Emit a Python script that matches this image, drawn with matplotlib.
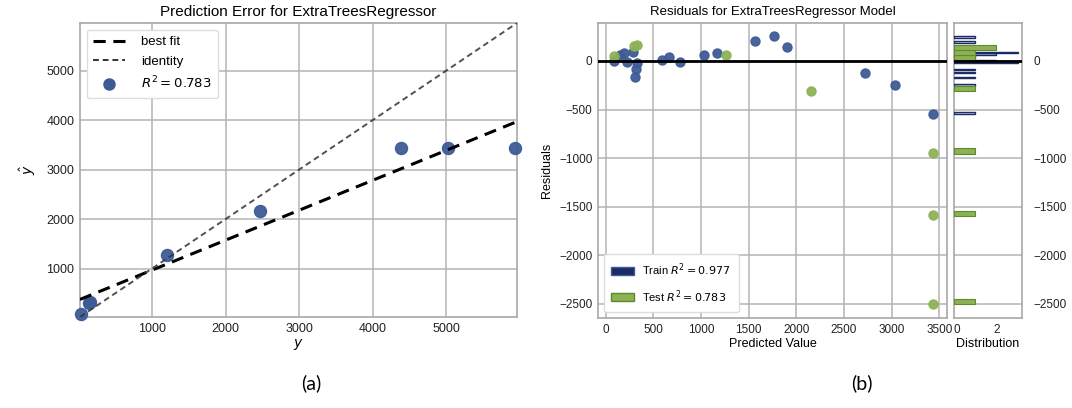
import matplotlib
matplotlib.use("Agg")
import matplotlib.pyplot as plt
from matplotlib.patches import Patch
from matplotlib.lines import Line2D
import numpy as np

# residual plot data (predicted value, residual = predicted - actual)
TRAIN_PRED = [86, 155, 196, 227, 286, 330, 320, 310, 588, 668, 778,
              1036, 1167, 1566, 1765, 1903, 2725, 3035, 3437]
TRAIN_RESID = [0, 65, 86, -7, 92, -17, -86, -164, 14, 38, -7,
               65, 86, 202, 253, 144, -123, -243, -542]
TEST_PRED = [86, 303, 330, 1266, 2154, 3437, 3437, 3437]
TEST_RESID = [48, 154, 168, 62, -312, -943, -1581, -2500]

TRAIN_R2 = 0.977
TEST_R2 = 0.783
BEST_FIT = (0.605, 363)   # slope, intercept

C_BLUE = "#3f5b96"
C_NAVY = "#1c2b63"
C_GREEN = "#8db255"
C_GREEN_E = "#5f8a2e"
C_GRID = "#b4b4b4"

plt.rcParams["font.family"] = ["Liberation Sans", "DejaVu Sans"]
plt.rcParams["axes.edgecolor"] = "#a8a8a8"
plt.rcParams["axes.linewidth"] = 1.2
plt.rcParams["xtick.color"] = "#222222"
plt.rcParams["ytick.color"] = "#222222"


def style(ax):
    ax.grid(True, color=C_GRID, lw=1.1)
    ax.set_axisbelow(True)
    ax.tick_params(length=0, labelsize=8.5, pad=4)


def hbars(ax, values, face, edge, lw):
    counts, edges = np.histogram(values, bins=50)
    keep = counts > 0
    ax.barh(edges[:-1][keep], counts[keep], height=np.diff(edges)[keep],
            align="edge", color=face, edgecolor=edge, lw=lw, zorder=3)


fig = plt.figure(figsize=(10.72, 4.08), dpi=100)
axA = fig.add_axes([0.0746, 0.223, 0.4077, 0.7206])
axR = fig.add_axes([0.5578, 0.2206, 0.3256, 0.723])
axH = fig.add_axes([0.8899, 0.2206, 0.0634, 0.723])

# ---- (a) prediction error
pred = np.array(TEST_PRED, float)
actual = pred - np.array(TEST_RESID, float)
lim = (20, 5960)
style(axA)
axA.tick_params(labelsize=9)
axA.scatter(actual, pred, s=75, color=C_BLUE, edgecolor=C_BLUE,
            alpha=0.95, zorder=3, clip_on=False)
xx = np.array(lim, float)
axA.plot(xx, BEST_FIT[0] * xx + BEST_FIT[1], color="black", lw=2.2,
         ls=(0, (4, 2.5)), zorder=4)
axA.plot(xx, xx, color="#333333", lw=1.4, ls=(0, (3, 2)), alpha=0.85,
         zorder=4)
axA.set_xlim(*lim)
axA.set_ylim(*lim)
axA.set_xticks([1000, 2000, 3000, 4000, 5000])
axA.set_yticks([1000, 2000, 3000, 4000, 5000])
axA.set_xlabel("$y$", fontsize=10, labelpad=2)
axA.set_ylabel(r"$\hat{y}$", fontsize=10, labelpad=6)
axA.set_title("Prediction Error for ExtraTreesRegressor", fontsize=11,
              pad=5)
hA = [Line2D([], [], color="black", lw=2.2, ls=(0, (4, 2.5))),
      Line2D([], [], color="#333333", lw=1.4, ls=(0, (3, 2))),
      Line2D([], [], color=C_BLUE, marker="o", ms=8, ls="none")]
axA.legend(hA, ["best fit", "identity", f"$R^2 = {TEST_R2}$"],
           loc="upper left", fontsize=9.5, frameon=True, framealpha=1,
           edgecolor="#dddddd", fancybox=True, handlelength=2.4,
           borderpad=0.5, labelspacing=0.55, handletextpad=1.2)

# ---- (b) residuals
style(axR)
axR.scatter(TRAIN_PRED, TRAIN_RESID, s=42, color=C_BLUE, alpha=0.95,
            zorder=3)
axR.scatter(TEST_PRED, TEST_RESID, s=42, color=C_GREEN, alpha=0.95,
            zorder=3)
axR.axhline(0, color="black", lw=2, zorder=4)
axR.set_xlim(-80, 3580)
ylim = (-2645, 390)
axR.set_ylim(*ylim)
axR.set_xticks(np.arange(0, 3501, 500))
axR.set_yticks(np.arange(-2500, 1, 500))
axR.set_xlabel("Predicted Value", fontsize=9, labelpad=2)
axR.set_ylabel("Residuals", fontsize=9, labelpad=4)
axR.set_title("Residuals for ExtraTreesRegressor Model", fontsize=9.5,
              pad=6)
hR = [Patch(facecolor=C_NAVY, edgecolor=C_BLUE),
      Patch(facecolor=C_GREEN, edgecolor=C_GREEN_E)]
axR.legend(hR, [f"Train $R^2 = {TRAIN_R2}$", f"Test $R^2 = {TEST_R2}$"],
           loc="lower left", fontsize=8, frameon=True, framealpha=1,
           edgecolor="#dddddd", handlelength=2.0, borderpad=0.7,
           labelspacing=0.9)

# ---- distribution strip
style(axH)
hbars(axH, TRAIN_RESID, "#d8dcea", C_NAVY, 1.0)
hbars(axH, TEST_RESID, C_GREEN, C_GREEN_E, 0.8)
axH.axhline(0, color="black", lw=2, zorder=4)
axH.set_ylim(*ylim)
axH.set_xlim(0, 3.2)
axH.set_xticks([0, 2])
axH.set_yticks(np.arange(-2500, 1, 500))
axH.grid(False, axis="x")
axH.yaxis.tick_right()
axH.tick_params(axis="y", pad=8)
axH.tick_params(axis="x", pad=4)
axH.set_xticklabels(["0", "2"])
axH.get_xticklabels()[0].set_ha("left")
axH.set_xlabel("Distribution", fontsize=9, labelpad=2)

for lab, x in (("(a)", 0.29), ("(b)", 0.804)):
    fig.text(x, 0.06, lab, fontsize=14, family=["Lato", "DejaVu Sans"],
             ha="center", va="center")

fig.savefig("out.png", dpi=100)
